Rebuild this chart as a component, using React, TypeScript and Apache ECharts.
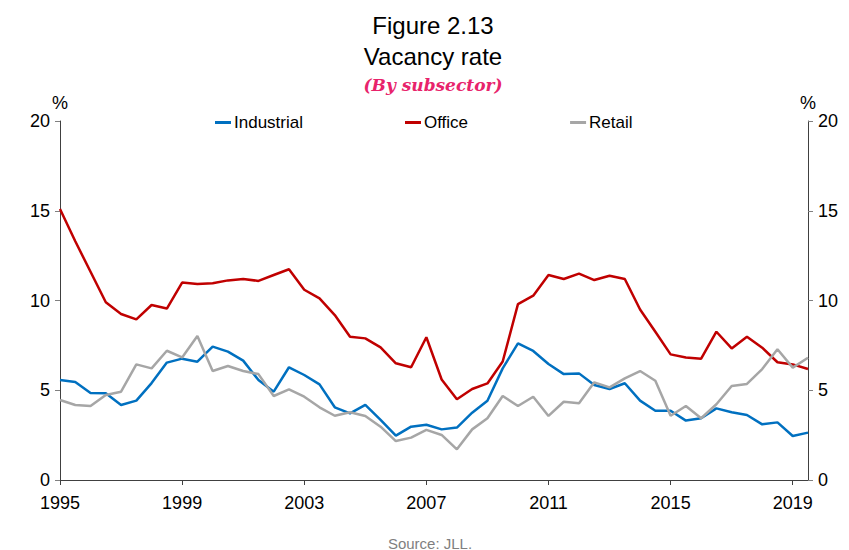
import React, { useEffect, useRef } from 'react';
import * as echarts from 'echarts';

const periods = [
  '1995 H1', '1995 H2', '1996 H1', '1996 H2', '1997 H1', '1997 H2', '1998 H1', '1998 H2',
  '1999 H1', '1999 H2', '2000 H1', '2000 H2', '2001 H1', '2001 H2', '2002 H1', '2002 H2',
  '2003 H1', '2003 H2', '2004 H1', '2004 H2', '2005 H1', '2005 H2', '2006 H1', '2006 H2',
  '2007 H1', '2007 H2', '2008 H1', '2008 H2', '2009 H1', '2009 H2', '2010 H1', '2010 H2',
  '2011 H1', '2011 H2', '2012 H1', '2012 H2', '2013 H1', '2013 H2', '2014 H1', '2014 H2',
  '2015 H1', '2015 H2', '2016 H1', '2016 H2', '2017 H1', '2017 H2', '2018 H1', '2018 H2',
  '2019 H1', '2019 H2',
];

const industrial = [
  5.57, 5.46, 4.85, 4.83, 4.18, 4.42, 5.4, 6.54, 6.76, 6.59,
  7.43, 7.15, 6.65, 5.57, 4.92, 6.28, 5.85, 5.33, 4.05, 3.71,
  4.18, 3.35, 2.47, 2.97, 3.08, 2.82, 2.92, 3.75, 4.42, 6.22,
  7.61, 7.19, 6.46, 5.9, 5.94, 5.29, 5.07, 5.39, 4.42, 3.86,
  3.86, 3.31, 3.44, 3.99, 3.77, 3.62, 3.1, 3.21, 2.45, 2.64,
];

const office = [
  15.1, 13.3, 11.6, 9.9, 9.25, 8.95, 9.75, 9.55, 11.0, 10.92,
  10.96, 11.12, 11.2, 11.09, 11.42, 11.74, 10.6, 10.12, 9.19, 7.98,
  7.89, 7.39, 6.5, 6.28, 7.95, 5.6, 4.5, 5.07, 5.38, 6.6,
  9.8, 10.27, 11.42, 11.2, 11.5, 11.14, 11.38, 11.2, 9.5, 8.26,
  7.0, 6.82, 6.76, 8.26, 7.33, 7.98, 7.37, 6.56, 6.44, 6.18,
];

const retail = [
  4.46, 4.18, 4.12, 4.74, 4.92, 6.44, 6.22, 7.2, 6.83, 8.02,
  6.07, 6.35, 6.07, 5.9, 4.68, 5.05, 4.64, 4.05, 3.58, 3.77,
  3.57, 2.97, 2.17, 2.36, 2.79, 2.51, 1.71, 2.82, 3.44, 4.68,
  4.12, 4.64, 3.57, 4.36, 4.27, 5.44, 5.16, 5.66, 6.07, 5.53,
  3.58, 4.12, 3.44, 4.22, 5.24, 5.35, 6.18, 7.28, 6.26, 6.81,
];

const seriesNames = ['Industrial', 'Office', 'Retail'];
const seriesColors = ['#0070C0', '#C00000', '#A6A6A6'];
const yMin = 0;
const yMax = 20;
const yStep = 5;

const titleLine1 = 'Figure 2.13';
const titleLine2 = 'Vacancy rate';
const subtitle = '(By subsector)';
const sourceText = 'Source: JLL.';

const FONT = '"Liberation Sans", Arial, Helvetica, sans-serif';

export default function App() {
  const ref = useRef<HTMLDivElement>(null);

  useEffect(() => {
    if (!ref.current) return;
    const chart = echarts.init(ref.current, undefined, { renderer: 'svg' });

    const yAxisBase = {
      type: 'value' as const,
      min: yMin,
      max: yMax,
      interval: yStep,
      name: '%',
      nameLocation: 'end' as const,
      nameGap: 0,
      nameTextStyle: { fontFamily: FONT, fontSize: 18, color: '#000', align: 'center' as const },
      axisLine: { show: true, lineStyle: { color: '#404040', width: 1 } },
      axisTick: { show: true, length: 5, lineStyle: { color: '#808080' } },
      axisLabel: { fontFamily: FONT, fontSize: 18, color: '#000', margin: 10 },
      splitLine: { show: false },
    };

    const data = [industrial, office, retail];

    chart.setOption({
      animation: false,
      backgroundColor: '#fff',
      grid: { left: 60, right: 41, top: 121, bottom: 70, containLabel: false },
      legend: {
        top: 109,
        left: 210,
        itemGap: 102,
        itemWidth: 16,
        itemHeight: 3,
        icon: 'rect',
        textStyle: { fontFamily: FONT, fontSize: 17, color: '#000', padding: [0, 0, 0, -2] },
        data: seriesNames,
      },
      xAxis: {
        type: 'category',
        data: periods,
        boundaryGap: false,
        axisLine: { show: true, lineStyle: { color: '#404040', width: 1 } },
        axisTick: { show: true, interval: 7, length: 5, lineStyle: { color: '#404040' } },
        axisLabel: {
          interval: 7,
          fontFamily: FONT,
          fontSize: 18,
          color: '#000',
          margin: 14,
          formatter: (v: string) => v.slice(0, 4),
        },
        splitLine: { show: false },
      },
      yAxis: [
        { ...yAxisBase, position: 'left' },
        { ...yAxisBase, position: 'right' },
      ],
      series: seriesNames.map((name, i) => ({
        name,
        type: 'line',
        data: data[i],
        yAxisIndex: 0,
        symbol: 'none',
        lineStyle: { color: seriesColors[i], width: 2.5 },
        itemStyle: { color: seriesColors[i] },
      })),
      graphic: [
        {
          type: 'text',
          x: 433,
          y: 25,
          style: {
            text: titleLine1,
            textAlign: 'center',
            textVerticalAlign: 'middle',
            fontFamily: FONT,
            fontSize: 24,
            fill: '#000',
          },
        },
        {
          type: 'text',
          x: 433,
          y: 56,
          style: {
            text: titleLine2,
            textAlign: 'center',
            textVerticalAlign: 'middle',
            fontFamily: FONT,
            fontSize: 24,
            fill: '#000',
          },
        },
        {
          type: 'text',
          x: 433,
          y: 85,
          style: {
            text: subtitle,
            textAlign: 'center',
            textVerticalAlign: 'middle',
            fontFamily: '"DejaVu Serif", "Liberation Serif", serif',
            fontSize: 17,
            fontWeight: 'bold',
            fontStyle: 'italic',
            fill: '#E8236B',
          },
        },
        {
          type: 'text',
          x: 430,
          y: 543,
          style: {
            text: sourceText,
            textAlign: 'center',
            textVerticalAlign: 'middle',
            fontFamily: FONT,
            fontSize: 15,
            fill: '#7F7F7F',
          },
        },
      ],
    });

    return () => {
      chart.dispose();
    };
  }, []);

  return (
    <div
      ref={ref}
      style={{ position: 'fixed', left: 0, top: 0, width: 849, height: 550 }}
    />
  );
}
